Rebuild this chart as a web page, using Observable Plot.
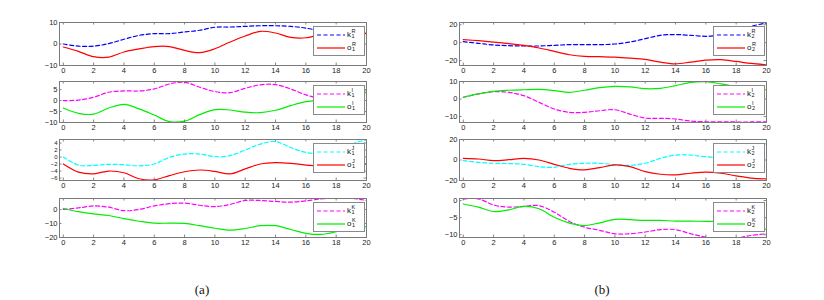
<!DOCTYPE html>
<html><head><meta charset="utf-8">
<script src="https://cdn.jsdelivr.net/npm/d3@7"></script>
<script src="https://cdn.jsdelivr.net/npm/@observablehq/plot@0.6"></script>
<style>
body{margin:0;background:#fff;}
#wrap{position:relative;width:824px;height:300px;background:#fff;overflow:hidden;font-family:"Liberation Sans",Arial,sans-serif;}
.pl{position:absolute;}
.leg{position:absolute;width:50px;height:28px;border:1px solid #8a8a8a;background:#fff;box-sizing:content-box;}
.row{position:absolute;left:0;width:50px;height:12px;}
.row svg{position:absolute;left:3px;top:0;}
.lab{position:absolute;left:33px;top:0px;font-size:8px;line-height:12px;color:#111;white-space:nowrap;}
.ss{display:inline-block;vertical-align:middle;font-size:5.5px;line-height:5px;margin-left:0.5px;position:relative;top:-1px;}
.ss span{display:block;}
.cap{position:absolute;top:282px;width:40px;text-align:center;font-family:"Liberation Serif","DejaVu Serif","Times New Roman",serif;font-size:13px;color:#111;}
</style></head>
<body><div id="wrap"></div>
<script>
// time grid
const t = [0,1,2,3,4,5,6,7,8,9,10,11,12,13,14,15,16,17,18,19,20];
const xTicks = [0,2,4,6,8,10,12,14,16,18,20];

// (a) robot 1
const k1R = [0,-1,-1,0.2,2.2,4,4.8,4.8,5.6,6.4,7.8,7.9,8.2,8.5,8.5,8.2,7.4,6,5.3,5.4,4.8];
const o1R = [-1.4,-3.4,-5.9,-6.1,-3.7,-2.3,-1.2,-1.2,-3,-4,-2.2,0.9,3.7,5.9,5.1,3.1,2.9,4.5,6.2,6.8,4.8];
const k1I = [0,0.2,1.5,3.8,4.4,4.4,5.3,7.6,8.3,6.1,4.1,3.6,5.6,7.2,7.3,5.3,2.6,1,1.5,3.5,4.6];
const o1I = [-3.4,-5.8,-6.2,-3.4,-1.7,-3.8,-6.6,-9.6,-9.4,-6.4,-4.1,-4.3,-5.3,-5.5,-4.4,-2.3,-0.5,0.3,1,2,3.8];
const k1J = [0,-2.3,-2.4,-2.1,-2.2,-2.5,-2,-0.1,0.85,0.85,0.1,0.4,2,3.7,4.4,2.7,1.3,1,1.8,3.7,4.9];
const o1J = [-2,-4.3,-4.8,-4,-4.5,-6.2,-6.5,-5.3,-4.2,-3.7,-4.1,-4.8,-3.4,-2,-1.6,-1.8,-2.3,-2.5,-2.4,-2.2,-2];
const k1K = [0,1.1,2.5,1.6,-0.9,0,2.5,4.1,4.5,3,2,3.6,6.4,6.4,5.7,5.2,6.1,7.5,8.2,8,6.4];
const o1K = [0.7,-1.6,-3.2,-4.3,-6.6,-8.4,-9.8,-9.8,-10,-11.6,-13.4,-14.8,-13.6,-11.6,-11.6,-14.3,-17,-17.8,-15.9,-13,-12.3];

// (b) robot 2
const k2R = [1.1,-0.7,-2.6,-3.4,-3.7,-3.7,-3,-2.2,-2.2,-2.2,-1.5,0.7,4.5,8.2,9,8.2,7.1,8.2,9.4,18,22];
const o2R = [3.4,2.2,0.7,-1.1,-3,-6,-9.7,-13.5,-15.4,-15.7,-16.1,-17.2,-18.7,-21.7,-23.6,-21.7,-19.5,-19,-21,-23.2,-24.7];
const k2I = [1,2.9,4.2,3.8,1.9,-1.9,-5.7,-7.6,-7.6,-6.7,-6.1,-8.6,-10.9,-11,-11.4,-12.6,-13,-13,-13.1,-13.1,-13.1];
const o2I = [1,2.9,4.4,5,5.3,5.5,4.8,3.8,5,6.5,7.2,6.9,5.9,6.1,7.6,9.5,9.9,8.6,7,5.6,5.3];
const k2J = [-0.6,-2.3,-3.2,-3.5,-4.2,-6.5,-7.1,-4.2,-3.2,-3.2,-4.5,-5.2,-3.2,1.6,4.8,4.8,3.2,3,7,12,16];
const o2J = [1.6,1,-0.6,0.3,1.6,0,-4.2,-8.1,-9.7,-7.4,-4.8,-6.5,-11.3,-13.9,-14.5,-12.9,-11.9,-12.9,-15.5,-17.7,-18.4];
const k2K = [0.5,0.5,-1.3,-1.9,-1.7,-1.5,-3.4,-6.1,-7.8,-8.7,-9.7,-9.7,-9.2,-8.5,-8.5,-9.7,-10.7,-11.2,-11,-10.2,-9.7];
const o2K = [-1,-1.9,-3.2,-2.7,-1.7,-2.4,-4.9,-6.6,-7.3,-6.5,-5.5,-5.6,-5.8,-5.8,-6,-6,-6.1,-6.1,-6.2,-6.8,-8.5];

const panels = [
  {col:0,row:0,k:k1R,o:o1R,kc:"#0000ff",oc:"#ff0000",sup:"R",sub:"1",yd:[-10,10],yt:[-10,0,10]},
  {col:0,row:1,k:k1I,o:o1I,kc:"#ff00ff",oc:"#00ee00",sup:"I",sub:"1",yd:[-10,8.7],yt:[-10,-5,0,5]},
  {col:0,row:2,k:k1J,o:o1J,kc:"#00ffff",oc:"#ff0000",sup:"J",sub:"1",yd:[-6.7,5],yt:[-6,-4,-2,0,2,4]},
  {col:0,row:3,k:k1K,o:o1K,kc:"#ff00ff",oc:"#00ee00",sup:"K",sub:"1",yd:[-20,7.8],yt:[-20,-10,0]},
  {col:1,row:0,k:k2R,o:o2R,kc:"#0000ff",oc:"#ff0000",sup:"R",sub:"2",yd:[-25.5,22.5],yt:[-20,0,20]},
  {col:1,row:1,k:k2I,o:o2I,kc:"#ff00ff",oc:"#00ee00",sup:"I",sub:"2",yd:[-13.4,10],yt:[-10,0,10]},
  {col:1,row:2,k:k2J,o:o2J,kc:"#00ffff",oc:"#ff0000",sup:"J",sub:"2",yd:[-20,20],yt:[-20,0,20]},
  {col:1,row:3,k:k2K,o:o2K,kc:"#ff00ff",oc:"#00ee00",sup:"K",sub:"2",yd:[-10.8,0.6],yt:[-10,-5,0]}
];

const frameLeft = [59, 459];
const frameTop = [22, 81, 139, 198];
const frameBottom = [65, 122, 180, 237];
const FW = 307;
const ML = 24, MR = 4, MT = 3, MB = 13;
const dash = "4,2.5";
const wrap = document.getElementById("wrap");

for (const p of panels) {
  const H = frameBottom[p.row] - frameTop[p.row];
  const kData = t.map((x,i)=>({t:x, v:p.k[i]}));
  const oData = t.map((x,i)=>({t:x, v:p.o[i]}));
  const tk = 2.5;
  const yFont = p.yt.length > 4 ? 6 : 7.5;
  const chart = Plot.plot({
    width: FW + ML + MR, height: H + MT + MB,
    marginLeft: ML, marginRight: MR, marginTop: MT, marginBottom: MB,
    x: {domain: [-0.25, 20]},
    y: {domain: p.yd},
    style: {fontFamily: '"Liberation Sans",Arial,sans-serif', fontSize: "7.5px", color: "#222", background: "transparent", overflow: "visible"},
    marks: [
      Plot.line(kData, {x:"t", y:"v", stroke:p.kc, strokeWidth:1.2, strokeDasharray:dash, curve:"catmull-rom", clip:true}),
      Plot.line(oData, {x:"t", y:"v", stroke:p.oc, strokeWidth:1.2, curve:"catmull-rom", clip:true}),
      Plot.ruleX(xTicks, {x: d=>d, insetTop: H - tk, stroke:"#666", strokeWidth:0.8}),
      Plot.ruleX(xTicks, {x: d=>d, insetBottom: H - tk, stroke:"#666", strokeWidth:0.8}),
      Plot.ruleY(p.yt, {y: d=>d, insetRight: FW - tk, stroke:"#666", strokeWidth:0.8}),
      Plot.ruleY(p.yt, {y: d=>d, insetLeft: FW - tk, stroke:"#666", strokeWidth:0.8}),
      Plot.frame({stroke:"#7a7a7a", strokeWidth:1}),
      Plot.axisX(xTicks, {tickSize:0, tickPadding:2, label:null}),
      Plot.axisY(p.yt, {tickSize:0, tickPadding:2, label:null, fontSize:yFont})
    ]
  });
  chart.classList.add("pl");
  chart.style.left = (frameLeft[p.col] - ML) + "px";
  chart.style.top = (frameTop[p.row] - MT) + "px";
  wrap.appendChild(chart);

  // legend
  const leg = document.createElement("div");
  leg.className = "leg";
  leg.style.left = (frameLeft[p.col] + FW - 53) + "px";
  leg.style.top = (frameTop[p.row] + 4) + "px";
  const mk = (color, dashed, sym, top) => `<div class="row" style="top:${top}px">
    <svg width="30" height="12"><line x1="0" x2="28" y1="6" y2="6" stroke="${color}" stroke-width="1.2" ${dashed?`stroke-dasharray="${dash}"`:""}/></svg>
    <span class="lab">${sym}<span class="ss"><span>${p.sup}</span><span>${p.sub}</span></span></span></div>`;
  leg.innerHTML = mk(p.kc, true, "k", 2) + mk(p.oc, false, "o", 15);
  wrap.appendChild(leg);
}

const capA = document.createElement("div");
capA.className = "cap"; capA.style.left = "182px"; capA.textContent = "(a)";
wrap.appendChild(capA);
const capB = document.createElement("div");
capB.className = "cap"; capB.style.left = "582px"; capB.textContent = "(b)";
wrap.appendChild(capB);
</script>
</body></html>
